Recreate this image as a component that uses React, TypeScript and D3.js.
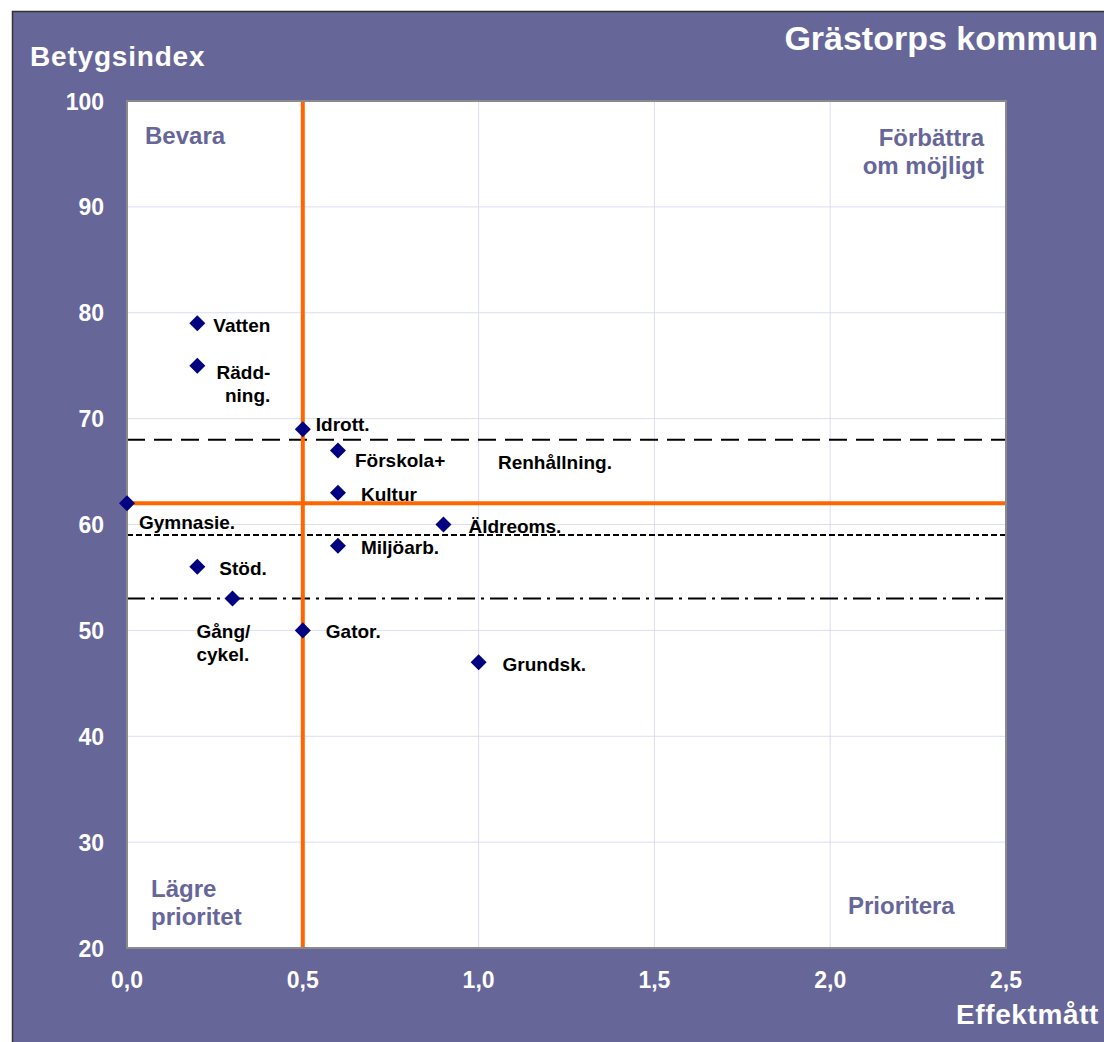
import * as d3 from 'd3';
import { useEffect, useRef } from 'react';

// services: name, effektmått (x), betygsindex (y)
const names = ['Vatten', 'Rädd-\nning.', 'Idrott.', 'Förskola+', 'Renhållning.', 'Kultur', 'Gymnasie.', 'Äldreoms.', 'Miljöarb.', 'Stöd.', 'Gång/\ncykel.', 'Gator.', 'Grundsk.'];
const effekt = [0.2, 0.2, 0.5, 0.6, 0.6, 0.6, 0.0, 0.9, 0.6, 0.2, 0.3, 0.5, 1.0];
const betyg = [79, 75, 69, 67, 67, 63, 62, 60, 58, 56, 53, 50, 47];
// label offsets from the marker (px, baseline) and whether the marker is shown
const labelDx = [16, 73, 13, 17, 160, 23, 12, 25, 23, 22, -36, 23, 24];
const labelDy = [9, 13, 2, 17, 19, 8, 26, 8, 8, 8, 39, 8, 9];
const labelAnchor = ['start', 'end', 'start', 'start', 'start', 'start', 'start', 'start', 'start', 'start', 'start', 'start', 'start'];
const showMarker = [true, true, true, true, false, true, true, true, true, true, true, true, true];

const xTicks = [0, 0.5, 1.0, 1.5, 2.0, 2.5];
const yTicks = [20, 30, 40, 50, 60, 70, 80, 90, 100];

// reference lines
const orangeX = 0.5;
const orangeY = 62;
const refLines = [
  { y: 68, dash: '18,9' },
  { y: 59, dash: '6,3' },
  { y: 53, dash: '18,6,3,6' },
];

function App() {
  const svgRef = useRef<SVGSVGElement>(null);

  useEffect(() => {
    const w = 1104;
    const h = 1042;
    const svg = d3.select(svgRef.current);
    svg.selectAll('*').remove();
    svg.attr('width', w).attr('height', h)
      .style('display', 'block').style('position', 'absolute').style('left', '0px').style('top', '0px');

    const font = '"Liberation Sans", Arial, sans-serif';
    const purple = '#666699';

    // outer frame
    svg.append('rect').attr('x', 12).attr('y', 11).attr('width', w - 12).attr('height', h - 11)
      .attr('fill', purple);
    svg.append('path').attr('d', `M12.5,${h} V11.5 H${w}`).attr('fill', 'none').attr('stroke', '#333').attr('stroke-width', 1.5);

    const left = 127, right = 1006, top = 101, bottom = 948;
    const x = d3.scaleLinear().domain([0, 2.5]).range([left, right]);
    const y = d3.scaleLinear().domain([20, 100]).range([bottom, top]);

    svg.append('rect').attr('x', left).attr('y', top).attr('width', right - left).attr('height', bottom - top)
      .attr('fill', 'white');

    // grid
    svg.append('g').selectAll('line.gy').data(yTicks).enter().append('line')
      .attr('x1', left).attr('x2', right).attr('y1', d => y(d)).attr('y2', d => y(d))
      .attr('stroke', '#dcdcf6').attr('stroke-width', 1);
    svg.append('g').selectAll('line.gx').data(xTicks).enter().append('line')
      .attr('y1', top).attr('y2', bottom).attr('x1', d => x(d)).attr('x2', d => x(d))
      .attr('stroke', '#dcdcf6').attr('stroke-width', 1);

    // quadrant labels
    const quad = svg.append('g').attr('font-family', font).attr('font-weight', 'bold')
      .attr('font-size', 24).attr('fill', purple);
    quad.append('text').attr('x', 145).attr('y', 144).text('Bevara');
    quad.append('text').attr('x', 984).attr('y', 146).attr('text-anchor', 'end').text('Förbättra');
    quad.append('text').attr('x', 984).attr('y', 174).attr('text-anchor', 'end').text('om möjligt');
    quad.append('text').attr('x', 151).attr('y', 897).text('Lägre');
    quad.append('text').attr('x', 151).attr('y', 925).text('prioritet');
    quad.append('text').attr('x', 848).attr('y', 914).text('Prioritera');

    // dashed reference lines
    svg.append('g').selectAll('line').data(refLines).enter().append('line')
      .attr('x1', left).attr('x2', right).attr('y1', d => y(d.y)).attr('y2', d => y(d.y))
      .attr('stroke', 'black').attr('stroke-width', 2).attr('stroke-dasharray', d => d.dash);

    // orange lines
    svg.append('line').attr('x1', x(orangeX)).attr('x2', x(orangeX)).attr('y1', top).attr('y2', bottom)
      .attr('stroke', '#ff6600').attr('stroke-width', 4);
    svg.append('line').attr('x1', x(0)).attr('x2', right).attr('y1', y(orangeY)).attr('y2', y(orangeY))
      .attr('stroke', '#ff6600').attr('stroke-width', 4);

    // plot border
    svg.append('rect').attr('x', left).attr('y', top).attr('width', right - left).attr('height', bottom - top)
      .attr('fill', 'none').attr('stroke', '#8a8a8a').attr('stroke-width', 2);

    const data = names.map((n, i) => ({ name: n, x: effekt[i], y: betyg[i], dx: labelDx[i], dy: labelDy[i], anchor: labelAnchor[i], show: showMarker[i] }));

    // markers
    const diamond = d3.symbol().type(d3.symbolSquare).size(128);
    svg.append('g').selectAll('path').data(data.filter(d => d.show)).enter().append('path')
      .attr('d', diamond)
      .attr('transform', d => `translate(${x(d.x)},${y(d.y)}) rotate(45)`)
      .attr('fill', '#000080');

    // point labels
    const lab = svg.append('g').attr('font-family', font).attr('font-weight', 'bold').attr('font-size', 19).attr('fill', 'black');
    data.forEach(d => {
      const lines = d.name.split('\n');
      const t = lab.append('text')
        .attr('x', x(d.x) + d.dx).attr('y', y(d.y) + d.dy)
        .attr('text-anchor', d.anchor);
      lines.forEach((l, k) => {
        t.append('tspan').attr('x', x(d.x) + d.dx).attr('dy', k === 0 ? 0 : 23).text(l);
      });
    });

    // tick labels
    const tl = svg.append('g').attr('font-family', font).attr('font-weight', 'bold').attr('font-size', 23).attr('fill', 'white');
    tl.selectAll('text.yt').data(yTicks).enter().append('text')
      .attr('x', 104).attr('y', d => y(d) + 8.5).attr('text-anchor', 'end').text(d => d);
    tl.selectAll('text.xt').data(xTicks).enter().append('text')
      .attr('x', d => x(d)).attr('y', 988).attr('text-anchor', 'middle')
      .text(d => d3.format('.1f')(d).replace('.', ','));

    // titles
    const tt = svg.append('g').attr('font-family', font).attr('font-weight', 'bold').attr('fill', 'white');
    tt.append('text').attr('x', 30).attr('y', 66).attr('font-size', 28).attr('letter-spacing', 0.8).text('Betygsindex');
    tt.append('text').attr('x', 1098).attr('y', 50).attr('font-size', 34).attr('text-anchor', 'end').text('Grästorps kommun');
    tt.append('text').attr('x', 1099).attr('y', 1024).attr('font-size', 28).attr('letter-spacing', 0.6).attr('text-anchor', 'end').text('Effektmått');
  }, []);

  return (
    <div>
      <svg ref={svgRef}></svg>
    </div>
  );
}

export default App;
